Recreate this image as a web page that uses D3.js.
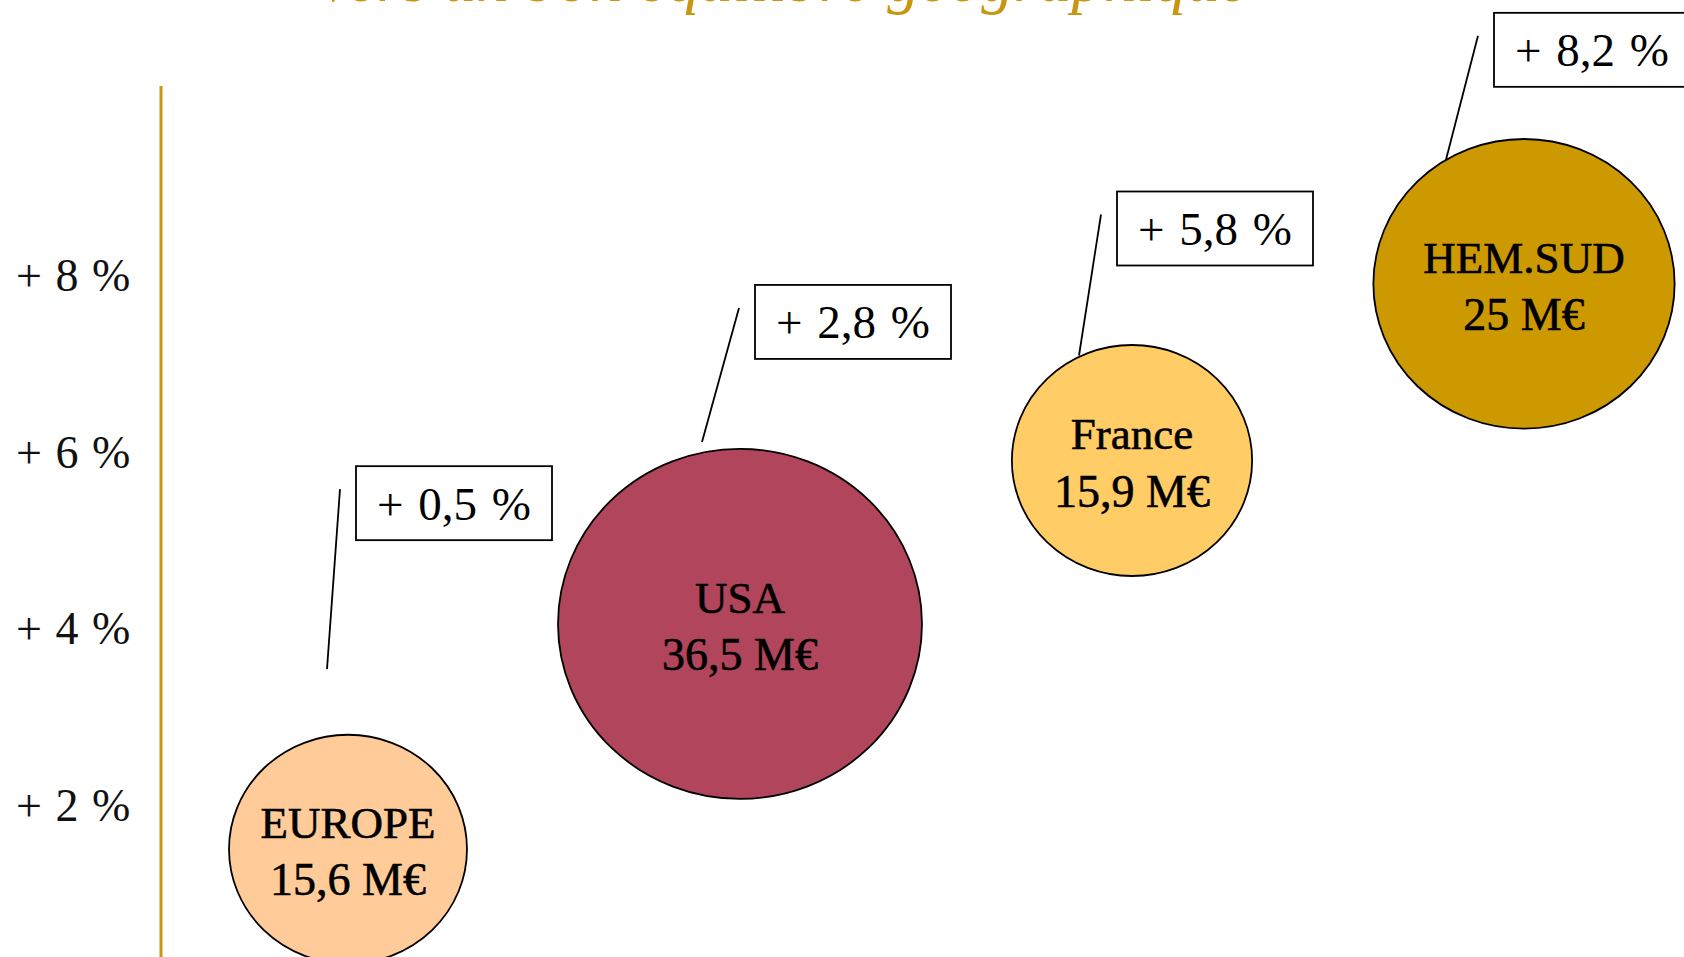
<!DOCTYPE html>
<html>
<head>
<meta charset="utf-8">
<script src="https://cdn.jsdelivr.net/npm/d3@7"></script>
<style>
  body { margin: 0; background: #fff; overflow: hidden; }
  text { font-family: "Liberation Serif", "DejaVu Serif", serif; }
</style>
</head>
<body>
<div id="chart"></div>
<script>
// data
const regions = ["EUROPE", "USA", "France", "HEM.SUD"];
const sales = [15.6, 36.5, 15.9, 25];           // M€
const growth = [0.5, 2.8, 5.8, 8.2];            // % growth
const bubbleLevel = [1.5, 4.05, 5.9, 7.9];      // vertical position in axis units
const yTicks = [2, 4, 6, 8];
const colors = ["#FFCC99", "#B0455B", "#FFCC66", "#CC9900"];

// callout layout (box corner and leader foot, relative to bubble centre)
const callouts = [
  { bx: 8, by: -383, fx: -21, fy: -180 },
  { bx: 15, by: -339, fx: -38, fy: -182 },
  { bx: -15, by: -269, fx: -53, fy: -105 },
  { bx: -30, by: -271, fx: -85, fy: -97 }
];

const width = 1684, height = 957;
const svg = d3.select("#chart").append("svg")
  .attr("width", width)
  .attr("height", height);

const fmt = (v) => String(v).replace(".", ",");

// title (cut off by the top edge in the original)
svg.append("text")
  .attr("x", 782)
  .attr("y", 1)
  .attr("text-anchor", "middle")
  .attr("font-style", "italic")
  .attr("font-size", 65)
  .attr("fill", "#C8960F")
  .text("Vers un bon équilibre géographique");

// scales
const x = d3.scalePoint().domain(regions).range([348, 1524]);
const y = d3.scaleLinear().domain([2, 8]).range([805, 275]);
const r = d3.scaleSqrt().domain([0, 36.5]).range([0, 175]);

// axis line + labels
svg.append("line")
  .attr("x1", 161).attr("x2", 161)
  .attr("y1", 86).attr("y2", height)
  .attr("stroke", "#C8960F")
  .attr("stroke-width", 3);

svg.append("g")
  .selectAll("text")
  .data(yTicks)
  .enter()
  .append("text")
  .attr("x", 16)
  .attr("y", (d) => y(d))
  .attr("dy", "0.35em")
  .attr("font-size", 46)
  .attr("word-spacing", 2)
  .attr("fill", "#111")
  .attr("xml:space", "preserve")
  .text((d) => "+ " + d + " %");

const pts = regions.map((name, i) => ({
  name: name,
  value: sales[i],
  growth: growth[i],
  cx: x(name),
  cy: y(bubbleLevel[i]),
  color: colors[i],
  c: callouts[i]
}));

// leader lines
svg.append("g")
  .selectAll("line")
  .data(pts)
  .enter()
  .append("line")
  .attr("x1", (d) => d.cx + d.c.fx)
  .attr("y1", (d) => d.cy + d.c.fy)
  .attr("x2", (d) => d.cx + d.c.bx - 16)
  .attr("y2", (d) => d.cy + d.c.by + 23)
  .attr("stroke", "#000")
  .attr("stroke-width", 1.8);

// growth boxes
const boxes = svg.append("g")
  .selectAll("g")
  .data(pts)
  .enter()
  .append("g")
  .attr("transform", (d) => `translate(${d.cx + d.c.bx},${d.cy + d.c.by})`);

boxes.append("rect")
  .attr("width", 196)
  .attr("height", 74)
  .attr("fill", "#fff")
  .attr("stroke", "#000")
  .attr("stroke-width", 1.8);

boxes.append("text")
  .attr("x", 98)
  .attr("y", 37)
  .attr("dy", "0.35em")
  .attr("text-anchor", "middle")
  .attr("font-size", 47)
  .attr("word-spacing", 3)
  .attr("xml:space", "preserve")
  .text((d) => "+ " + fmt(d.growth) + " %");

// bubbles
const bubbles = svg.append("g")
  .selectAll("g")
  .data(pts)
  .enter()
  .append("g")
  .attr("transform", (d) => `translate(${d.cx},${d.cy})`);

bubbles.append("ellipse")
  .attr("rx", (d) => r(d.value) * 1.04)
  .attr("ry", (d) => r(d.value))
  .attr("fill", (d) => d.color)
  .attr("stroke", "#000")
  .attr("stroke-width", 1.8);

bubbles.append("text")
  .attr("y", -27)
  .attr("dy", "0.35em")
  .attr("text-anchor", "middle")
  .attr("font-size", 45)
  .attr("stroke", "#000")
  .attr("stroke-width", 0.6)
  .text((d) => d.name);

bubbles.append("text")
  .attr("y", 30)
  .attr("dy", "0.35em")
  .attr("text-anchor", "middle")
  .attr("font-size", 46)
  .attr("stroke", "#000")
  .attr("stroke-width", 0.6)
  .text((d) => fmt(d.value) + " M€");
</script>
</body>
</html>
